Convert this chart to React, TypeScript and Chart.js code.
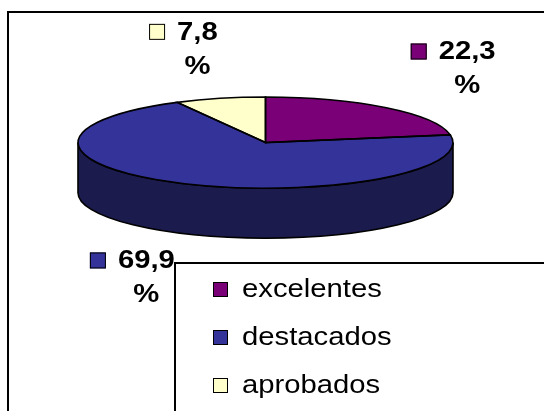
import React, { useEffect, useRef } from 'react';
import { Chart, registerables } from 'chart.js';

Chart.register(...registerables);

const categories = ['excelentes', 'destacados', 'aprobados'];
const percentages = [22.3, 69.9, 7.8];
const topColors = ['#7a0077', '#333399', '#ffffcc'];
const sideColors = ['#3d003c', '#1b1b4d', '#8a8a6a'];

const TILT = 0.243;
const DEPTH = 0.267;
const FONT = '"Liberation Sans", Arial, sans-serif';
const SX = 1.17;

function geom(chart: any) {
  const ca = chart.chartArea;
  const rx = (ca.right - ca.left) / 2;
  const ex = ca.left + rx;
  const ry = rx * TILT;
  const ey = ca.top + ry;
  const depth = rx * DEPTH;
  return { rx, ry, ex, ey, depth };
}

function stretchedText(ctx: CanvasRenderingContext2D, text: string, x: number, y: number) {
  ctx.save();
  ctx.translate(x, y);
  ctx.scale(SX, 1);
  ctx.fillText(text, 0, 0);
  ctx.restore();
}

const pie3d = {
  id: 'pie3d',
  beforeDraw(chart: any) {
    const ctx = chart.ctx as CanvasRenderingContext2D;
    ctx.save();
    ctx.strokeStyle = '#000';
    ctx.lineWidth = 2;
    ctx.beginPath();
    ctx.moveTo(8, chart.height + 10);
    ctx.lineTo(8, 12);
    ctx.lineTo(chart.width + 10, 12);
    ctx.stroke();
    ctx.restore();
  },
  beforeDatasetsDraw(chart: any) {
    const ctx = chart.ctx as CanvasRenderingContext2D;
    const { rx, ry, ex, ey, depth } = geom(chart);
    const meta = chart.getDatasetMeta(0);
    ctx.save();
    ctx.lineWidth = 1.6;
    ctx.strokeStyle = '#000';
    meta.data.forEach((arc: any, i: number) => {
      const p = arc.getProps(['startAngle', 'endAngle'], true);
      for (const off of [0, 2 * Math.PI, -2 * Math.PI]) {
        const a1 = Math.max(p.startAngle, off);
        const a2 = Math.min(p.endAngle, Math.PI + off);
        if (a2 > a1) {
          const b1 = a1 - off;
          const b2 = a2 - off;
          ctx.beginPath();
          ctx.ellipse(ex, ey, rx, ry, 0, b1, b2, false);
          ctx.lineTo(ex + rx * Math.cos(b2), ey + depth + ry * Math.sin(b2));
          ctx.ellipse(ex, ey + depth, rx, ry, 0, b2, b1, true);
          ctx.closePath();
          ctx.fillStyle = sideColors[i];
          ctx.fill();
          ctx.stroke();
        }
      }
    });
    ctx.restore();

    const a0 = meta.data[0];
    const c = a0.getProps(['x', 'y', 'outerRadius'], true);
    ctx.save();
    ctx.translate(ex, ey);
    ctx.scale(rx / c.outerRadius, ry / c.outerRadius);
    ctx.translate(-c.x, -c.y);
  },
  afterDatasetsDraw(chart: any) {
    const ctx = chart.ctx as CanvasRenderingContext2D;
    ctx.restore();
    const { rx, ry, ex, ey, depth } = geom(chart);
    const meta = chart.getDatasetMeta(0);
    const values = chart.data.datasets[0].data as number[];
    const colors = chart.data.datasets[0].backgroundColor as string[];

    ctx.save();
    ctx.lineWidth = 1.6;
    ctx.strokeStyle = '#000';
    meta.data.forEach((arc: any) => {
      const p = arc.getProps(['startAngle', 'endAngle'], true);
      ctx.beginPath();
      ctx.moveTo(ex, ey);
      ctx.ellipse(ex, ey, rx, ry, 0, p.startAngle, p.endAngle, false);
      ctx.closePath();
      ctx.stroke();
    });

    // data labels
    ctx.font = 'bold 25px ' + FONT;
    ctx.textBaseline = 'middle';
    ctx.textAlign = 'left';
    meta.data.forEach((arc: any, i: number) => {
      const p = arc.getProps(['startAngle', 'endAngle'], true);
      const mid = (p.startAngle + p.endAngle) / 2;
      const cs = Math.cos(mid);
      const sn = Math.sin(mid);
      const ax = ex + 5 + (rx + 30) * cs;
      const ay = ey + (ry + 50) * sn + (sn > 0 ? depth : 0);
      const num = values[i].toFixed(1).replace('.', ',');
      const w = ctx.measureText(num).width * SX;
      const blockW = 16 + 12 + w;
      const left = cs >= 0 ? ax : ax - blockW;
      const y1 = ay - 17;
      const y2 = ay + 17;
      ctx.fillStyle = colors[i];
      ctx.fillRect(left, y1 - 9, 16, 16);
      ctx.lineWidth = 1;
      ctx.strokeStyle = '#000';
      ctx.strokeRect(left + 0.5, y1 - 8.5, 15, 15);
      ctx.fillStyle = '#000';
      stretchedText(ctx, num, left + 28, y1);
      const pw = ctx.measureText('%').width * SX;
      stretchedText(ctx, '%', left + 28 + w / 2 - pw / 2, y2);
    });

    // legend
    const lx = 175;
    const ly = 263;
    ctx.lineWidth = 2;
    ctx.strokeStyle = '#000';
    ctx.beginPath();
    ctx.moveTo(lx, chart.height + 10);
    ctx.lineTo(lx, ly);
    ctx.lineTo(chart.width + 10, ly);
    ctx.stroke();
    ctx.font = '25px ' + FONT;
    ctx.textBaseline = 'alphabetic';
    (chart.data.labels as string[]).forEach((lab: string, i: number) => {
      const by = 297 + i * 48;
      ctx.fillStyle = colors[i];
      ctx.fillRect(lx + 38, by - 15, 15, 15);
      ctx.lineWidth = 1;
      ctx.strokeRect(lx + 38.5, by - 14.5, 14, 14);
      ctx.fillStyle = '#000';
      stretchedText(ctx, lab, lx + 67, by);
    });
    ctx.restore();
  },
};

export default function App() {
  const ref = useRef<HTMLCanvasElement>(null);
  useEffect(() => {
    if (!ref.current) return;
    const chart = new Chart(ref.current, {
      type: 'pie',
      data: {
        labels: categories,
        datasets: [
          {
            data: percentages,
            backgroundColor: topColors,
            borderWidth: 0,
          },
        ],
      },
      options: {
        responsive: true,
        maintainAspectRatio: false,
        animation: false,
        events: [],
        layout: { padding: { left: 78, right: 91, top: 97, bottom: 0 } },
        plugins: {
          legend: { display: false },
          tooltip: { enabled: false },
        },
      },
      plugins: [pie3d],
    });
    return () => chart.destroy();
  }, []);
  return (
    <div style={{ position: 'fixed', left: 0, top: 0, width: 544, height: 411, background: '#fff' }}>
      <canvas ref={ref} />
    </div>
  );
}
